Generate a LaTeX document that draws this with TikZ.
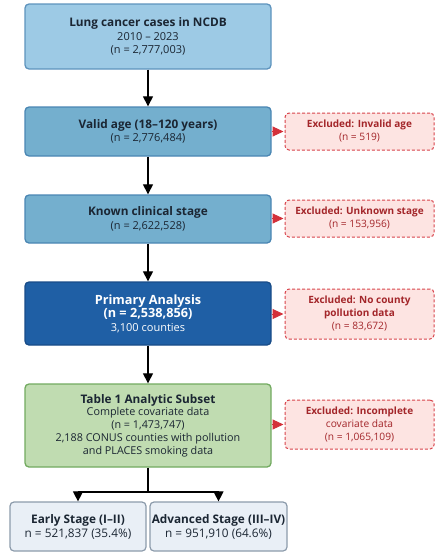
\documentclass[tikz,border=0pt]{standalone}
\usepackage{fontspec}
\setmainfont{Open Sans}
\usetikzlibrary{arrows.meta}
\definecolor{txt}{HTML}{1B2633}
\definecolor{bA}{HTML}{9DCAE5}\definecolor{bAd}{HTML}{5E93BD}
\definecolor{bB}{HTML}{74AFCE}\definecolor{bBd}{HTML}{4A86B3}
\definecolor{bC}{HTML}{1F5FA5}\definecolor{bCd}{HTML}{184C88}
\definecolor{bG}{HTML}{C0DCB1}\definecolor{bGd}{HTML}{72AA60}
\definecolor{bS}{HTML}{E9EFF6}\definecolor{bSd}{HTML}{8C9BAB}
\definecolor{eF}{HTML}{FDE4E2}\definecolor{eD}{HTML}{D8434B}
\definecolor{eT}{HTML}{A3262A}
\definecolor{arr}{HTML}{D3313A}
\newcommand{\bt}[1]{{\fontsize{11.8}{13.5}\selectfont\bfseries #1}}
\newcommand{\et}[1]{{\fontsize{10}{13}\selectfont\bfseries #1}}
\tikzset{
  mainbox/.style={draw, line width=1.3pt, rounded corners=4pt, minimum width=246pt, align=center, text=txt, font=\fontsize{11}{13.5}\selectfont, inner sep=0pt},
  exbox/.style={draw=eD, fill=eF, dashed, dash pattern=on 3pt off 2pt, line width=1pt, rounded corners=4pt, minimum width=149pt, align=center, text=eT, font=\fontsize{10.2}{13}\selectfont, inner sep=0pt},
  stagebox/.style={draw=bSd, fill=bS, line width=1.2pt, rounded corners=4pt, minimum height=49pt, align=center, text=txt, font=\fontsize{11.8}{14}\selectfont, inner sep=0pt},
  flow/.style={draw=black, line width=1.1pt, -{Triangle[width=10pt,length=10pt]}},
  exarrow/.style={draw=arr, line width=1pt, -{Triangle[width=10pt,length=11pt]}, shorten >=1pt}
}
\begin{document}
\begin{tikzpicture}[x=1pt,y=-1pt]
\useasboundingbox (0,0) rectangle (436,552);
\node[mainbox, fill=bA, draw=bAd, minimum height=65pt] (b1) at (148,36.5)
  {\bt{Lung cancer cases in NCDB}\\2010 -- 2023\\(n = 2,777,003)};
\node[mainbox, fill=bB, draw=bBd, minimum height=49pt] (b2) at (148,131.5)
  {\bt{Valid age (18--120 years)}\\(n = 2,776,484)};
\node[mainbox, fill=bB, draw=bBd, minimum height=48pt] (b3) at (148,219)
  {\bt{Known clinical stage}\\(n = 2,622,528)};
\node[mainbox, fill=bC, draw=bCd, minimum height=63pt, text=white] (b4) at (148,313.5)
  {{\fontsize{12.7}{14}\selectfont\textbf{Primary Analysis}}\\{\fontsize{12.7}{14}\selectfont\textbf{(n = 2,538,856)}}\\3,100 counties};
\node[mainbox, fill=bG, draw=bGd, minimum height=83pt, font=\fontsize{10.8}{12.7}\selectfont] (b5) at (148,425.5)
  {\bt{Table 1 Analytic Subset}\\Complete covariate data\\(n = 1,473,747)\\2,188 CONUS counties with pollution\\and PLACES smoking data};
\node[stagebox, minimum width=136pt] (s1) at (78,526.5)
  {\textbf{Early Stage (I--II)}\\n = 521,837 (35.4\%)};
\node[stagebox, minimum width=137pt] (s2) at (218.5,526.5)
  {\textbf{Advanced Stage (III--IV)}\\n = 951,910 (64.6\%)};
\node[exbox, minimum height=37pt] (e1) at (359.5,131.5)
  {\et{Excluded: Invalid age}\\(n = 519)};
\node[exbox, minimum height=37pt] (e2) at (359.5,218.5)
  {\et{Excluded: Unknown stage}\\(n = 153,956)};
\node[exbox, minimum height=50pt] (e3) at (359.5,314)
  {\et{Excluded: No county}\\\et{pollution data}\\(n = 83,672)};
\node[exbox, minimum height=49pt] (e4) at (359.5,424.5)
  {\et{Excluded: Incomplete}\\covariate data\\(n = 1,065,109)};
\draw[flow] (b1) -- (b2);
\draw[flow] (b2) -- (b3);
\draw[flow] (b3) -- (b4);
\draw[flow] (b4) -- (b5);
\coordinate (sp) at (148,492);
\draw[line width=1.1pt] (b5.south) -- (sp);
\draw[line width=1.1pt] (sp -| s1) -- (sp -| s2);
\draw[flow] (sp -| s1) -- (s1.north);
\draw[flow] (sp -| s2) -- (s2.north);
\draw[exarrow] (b2.east) -- (e1.west);
\draw[exarrow] (b3.east |- e2.west) -- (e2.west);
\draw[exarrow] (b4.east |- e3.west) -- (e3.west);
\draw[exarrow] (b5.east |- e4.west) -- (e4.west);
\end{tikzpicture}
\end{document}
